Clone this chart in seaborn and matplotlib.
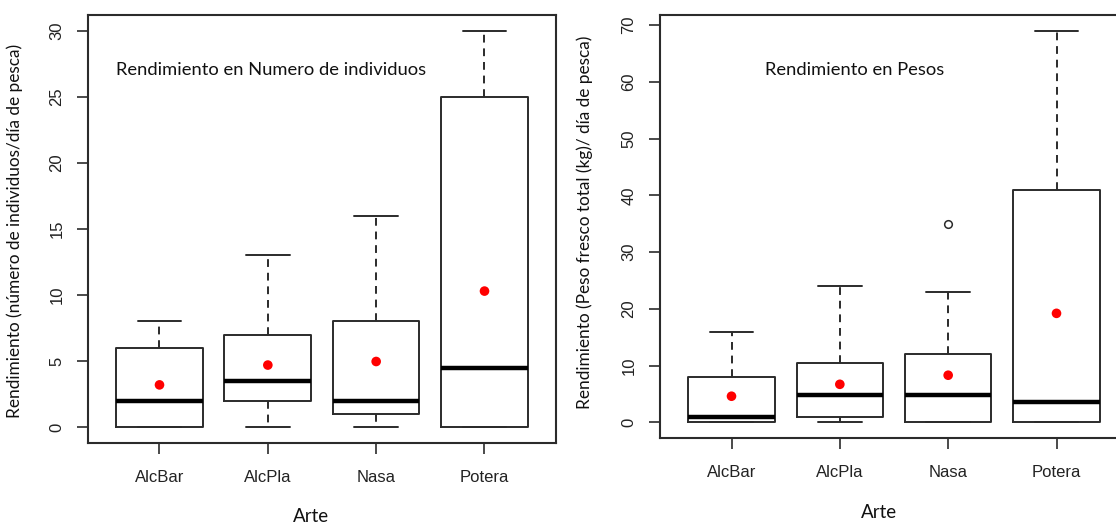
import numpy as np
import seaborn as sns
import matplotlib
matplotlib.use("Agg")
import matplotlib.pyplot as plt

# Categorias (arte de pesca)
artes = ['AlcBar', 'AlcPla', 'Nasa', 'Potera']

# Rendimiento en numero de individuos / dia de pesca
ind_min = [0, 0, 0, 0]
ind_q1 = [0, 2, 1, 0]
ind_med = [2, 3.5, 2, 4.5]
ind_q3 = [6, 7, 8, 25]
ind_max = [8, 13, 16, 30]
ind_media = [3.2, 4.7, 4.97, 10.3]
ind_atipicos = [[], [], [], []]

# Rendimiento en peso fresco total (kg) / dia de pesca
peso_min = [0, 0, 0, 0]
peso_q1 = [0, 1, 0, 0]
peso_med = [0.9, 4.8, 4.8, 3.5]
peso_q3 = [8, 10.5, 12, 41]
peso_max = [16, 24, 23, 69]
peso_media = [4.6, 6.7, 8.3, 19.2]
peso_atipicos = [[], [], [35], []]

W, H = 1116, 524
sns.set_style("white")
plt.rcParams['font.family'] = ['Liberation Sans', 'DejaVu Sans']

fig = plt.figure(figsize=(W / 100, H / 100), dpi=100)


def px_axes(x0, y0, x1, y1):
    # caja del panel en pixeles (izq, arriba, der, abajo)
    return [x0 / W, 1 - y1 / H, (x1 - x0) / W, (y1 - y0) / H]


def fig_text(x, y, s, **kw):
    fig.text(x / W, 1 - y / H, s, **kw)


def panel(ax, mins, q1, med, q3, maxs, medias, atipicos, ylim, yticks):
    pos = np.arange(1, len(artes) + 1)
    stats = []
    for i, a in enumerate(artes):
        stats.append(dict(label=a, whislo=mins[i], q1=q1[i], med=med[i],
                          q3=q3[i], whishi=maxs[i], fliers=atipicos[i]))
    ax.bxp(stats, positions=pos, widths=0.8, capwidths=0.4, showfliers=True,
           boxprops=dict(color='#2b2b2b', lw=1.4),
           medianprops=dict(color='black', lw=3.2, solid_capstyle='butt'),
           whiskerprops=dict(color='#2b2b2b', lw=1.4, ls=(0, (4, 3))),
           capprops=dict(color='#2b2b2b', lw=1.4),
           flierprops=dict(marker='o', mfc='none', mec='#2b2b2b', ms=5.5, mew=1.1))
    sns.scatterplot(x=pos, y=medias, color='red', s=48, edgecolor='none',
                    ax=ax, zorder=5)
    ax.set_xlim(0.34, 4.66)
    ax.set_ylim(*ylim)
    ax.set_xticks(pos)
    ax.set_xticklabels(artes)
    ax.set_yticks(yticks)
    ax.set_yticklabels([str(t) for t in yticks], rotation=90, va='center')
    ax.tick_params(axis='both', direction='out', length=8, width=1.2,
                   bottom=True, left=True,
                   color='#2b2b2b', labelsize=12, labelcolor='#222222')
    ax.tick_params(axis='x', pad=11.5)
    ax.tick_params(axis='y', pad=9)
    for sp in ax.spines.values():
        sp.set_visible(True)
        sp.set_color('#2b2b2b')
        sp.set_linewidth(1.5)
    ax.set_xlabel('')
    ax.set_ylabel('')


ax1 = fig.add_axes(px_axes(88, 15, 556, 443))
panel(ax1, ind_min, ind_q1, ind_med, ind_q3, ind_max, ind_media, ind_atipicos,
      (-1.2, 31.2), list(range(0, 31, 5)))

ax2 = fig.add_axes(px_axes(660, 15, 1128, 438))
panel(ax2, peso_min, peso_q1, peso_med, peso_q3, peso_max, peso_media, peso_atipicos,
      (-2.76, 71.76), list(range(0, 71, 10)))

lab = dict(family=['Lato', 'DejaVu Sans'], color='#111111')
fig_text(116, 70, 'Rendimiento en Numero de individuos', ha='left', va='center',
         fontsize=13.2, **lab)
fig_text(765, 70, 'Rendimiento en Pesos', ha='left', va='center', fontsize=13.2, **lab)
fig_text(15, 231, 'Rendimiento (número de individuos/día de pesca)', rotation=90,
         ha='center', va='center', fontsize=12.4, **lab)
fig_text(585, 222, 'Rendimiento (Peso fresco total (kg)/ día de pesca)', rotation=90,
         ha='center', va='center', fontsize=12.4, **lab)
fig_text(311, 516, 'Arte', ha='center', va='center', fontsize=13.5, **lab)
fig_text(879, 512, 'Arte', ha='center', va='center', fontsize=13.5, **lab)

fig.savefig('out.png', dpi=100)
